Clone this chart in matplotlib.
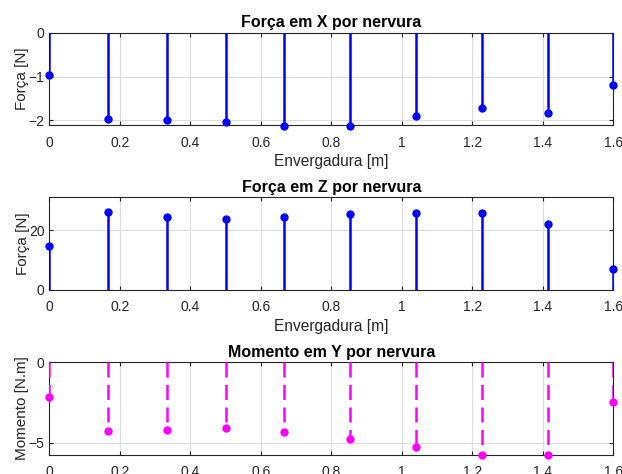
import numpy as np
import matplotlib.pyplot as plt

plt.rcParams['font.family'] = ['Liberation Sans', 'DejaVu Sans']

# posições das nervuras e esforços
envergadura = [0.0, 0.1667, 0.3333, 0.5, 0.6667, 0.8533, 1.04, 1.2267, 1.4133, 1.6]
forca_x = [-0.96, -1.96, -2.00, -2.04, -2.12, -2.12, -1.91, -1.71, -1.83, -1.20]
forca_z = [14.6, 25.9, 24.3, 23.6, 24.3, 25.4, 25.8, 25.6, 21.9, 7.1]
momento_y = [-2.14, -4.30, -4.19, -4.11, -4.36, -4.79, -5.25, -5.78, -5.78, -2.45]

xticks = [0, 0.2, 0.4, 0.6, 0.8, 1.0, 1.2, 1.4, 1.6]
xticklabels = ['0', '0.2', '0.4', '0.6', '0.8', '1', '1.2', '1.4', '1.6']

txt = '#262626'
fig = plt.figure(figsize=(6.22, 4.74), dpi=100)

paineis = [
    (forca_x, 'Força em X por nervura', 'Força [N]', 'b', '-', (-2.11, 0), [-2, -1, 0], [0.0793, 0.7357, 0.9068, 0.1954]),
    (forca_z, 'Força em Z por nervura', 'Força [N]', 'b', '-', (0, 30.9), [0, 20], [0.0793, 0.3882, 0.9068, 0.1955]),
    (momento_y, 'Momento em Y por nervura', 'Momento [N.m]', 'm', '--', (-5.75, 0), [-5, 0], [0.0793, 0.0407, 0.9068, 0.195]),
]

for i, (vals, titulo, ylab, cor, ls, ylim, yt, pos) in enumerate(paineis):
    ax = fig.add_axes(pos)
    cor_rgb = (0, 0, 1) if cor == 'b' else (1, 0, 1)
    ml, sl, bl = ax.stem(envergadura, vals, basefmt=' ')
    plt.setp(sl, color=cor_rgb, linewidth=1.8, zorder=3)
    if ls == '--':
        sl.set_linestyle((0, (6.0, 3.0)))
    plt.setp(ml, color=cor_rgb, markersize=5, clip_on=False, zorder=4)
    ax.set_xlim(0, 1.6)
    ax.set_ylim(*ylim)
    ax.set_xticks(xticks)
    ax.set_xticklabels(xticklabels)
    ax.set_yticks(yt)
    ax.grid(True, color='#dcdcdc', linewidth=0.8)
    ax.set_axisbelow(True)
    ax.tick_params(axis='x', pad=7.5)
    ax.tick_params(direction='in', top=True, right=True, length=3, width=0.8,
                   colors=txt, labelsize=10, labelcolor=txt)
    for s in ax.spines.values():
        s.set_color(txt)
        s.set_linewidth(0.8)
        s.set_zorder(2.5)
    ax.set_title(titulo, fontsize=11.5, fontweight='bold', color='black', pad=4)
    ax.set_ylabel(ylab, fontsize=11, color=txt, labelpad=-0.5)
    if i < 2:
        ax.set_xlabel('Envergadura [m]', fontsize=11.2, color=txt, labelpad=3)

fig.savefig('out.png', dpi=100)
